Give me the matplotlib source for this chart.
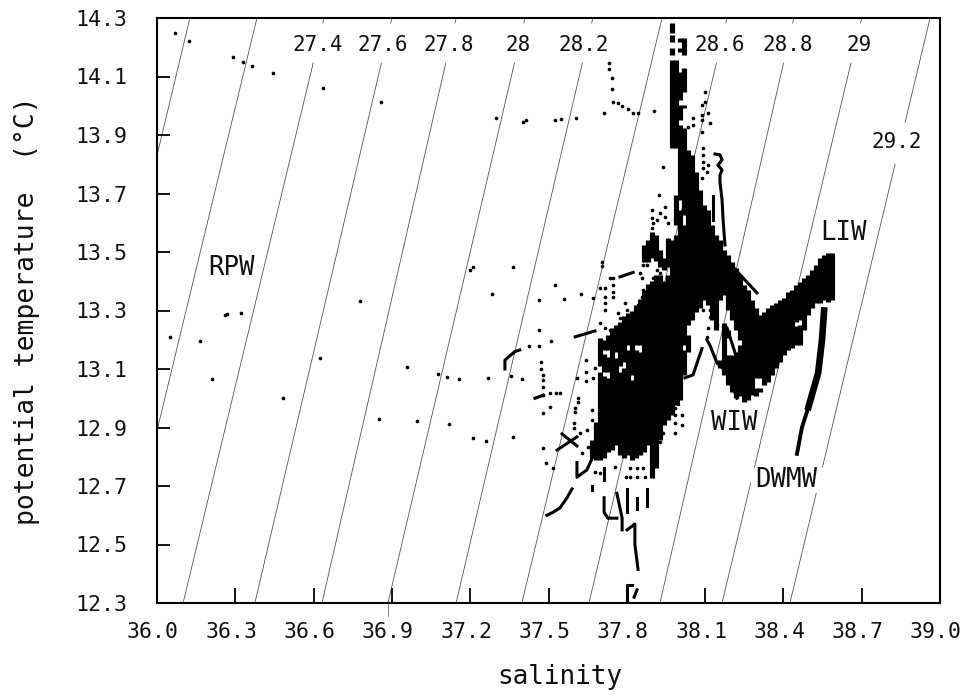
"""
Potential temperature vs salinity diagram with isopycnal lines.
"""

import matplotlib
matplotlib.use("Agg")
import matplotlib.pyplot as plt
from matplotlib.transforms import ScaledTranslation
import numpy as np

FONT = "DejaVu Sans Mono"
INK = "#111111"
LINE = "#555555"

SAL_TICKS = [36.0, 36.3, 36.6, 36.9, 37.2, 37.5, 37.8, 38.1, 38.4, 38.7, 39.0]
TEMP_TICKS = [12.3, 12.5, 12.7, 12.9, 13.1, 13.3, 13.5, 13.7, 13.9, 14.1, 14.3]

# isopycnals: salinity where each one meets the top and the bottom of the frame
sigma = [27.0, 27.2, 27.4, 27.6, 27.8, 28.0, 28.2, 28.4, 28.6, 28.8, 29.0, 29.2]
sigma_sal_top = [36.126, 36.383, 36.64, 36.90, 37.146, 37.41, 37.67, 37.935, 38.184, 38.44, 38.70, 38.962]
sigma_sal_bottom = [35.59, 35.84, 36.10, 36.375, 36.632, 36.885, 37.146, 37.398, 37.655, 37.927, 38.165, 38.425]
# temperature ranges where a line is broken for its text
sigma_gaps = [
    [], [],
    [(14.283, 14.146)], [(14.283, 14.146)], [(14.283, 14.146)], [(14.283, 14.146)], [(14.283, 14.146)],
    [],
    [(14.283, 14.146)], [(14.283, 14.146)],
    [(14.283, 14.146), (12.765, 12.71)],
    [(13.944, 13.80), (12.765, 12.675)],
]
sigma_text = ["27.4", "27.6", "27.8", "28", "28.2", "28.6", "28.8", "29", "29.2"]
sigma_text_sal = [36.615, 36.866, 37.119, 37.383, 37.636, 38.157, 38.418, 38.69, 38.835]
sigma_text_temp = [14.208, 14.208, 14.208, 14.208, 14.208, 14.208, 14.208, 14.208, 13.876]

water_names = ["RPW", "LIW", "WIW", "DWMW"]
water_sal = [36.284, 38.632, 38.211, 38.41]
water_temp = [13.445, 13.565, 12.915, 12.72]

# isolated samples
dots_sal = [
    36.068, 36.121, 36.292, 36.328, 36.364, 36.446, 36.635, 36.859, 36.778, 36.321, 36.261, 36.270,
    37.199, 37.21, 36.05, 36.166, 36.211, 36.482, 36.626, 36.851, 36.958, 36.995, 37.077, 37.111,
    37.157, 37.12, 37.21, 37.364, 37.285, 37.268, 37.261, 37.364, 37.355, 37.299, 37.402, 37.414,
    37.525, 37.548, 37.605, 37.714, 37.732, 37.732, 37.742, 37.742, 37.748, 37.766, 37.782, 37.805,
    37.825, 37.844, 37.904, 37.464, 37.526, 37.561, 37.625, 37.464, 37.427, 37.465, 37.508, 37.4,
    37.489, 37.479, 37.471, 37.471, 37.479, 37.479, 37.479, 37.479, 37.479, 37.506, 37.529, 37.544,
    37.506, 37.517, 37.644, 37.644, 37.644, 37.609, 37.67, 37.678, 37.613, 37.613, 37.602, 37.602,
    37.667, 37.667, 37.678, 37.647, 37.598, 37.598, 37.621, 37.651, 37.628, 37.697, 37.678,
    37.705, 37.705, 37.736, 37.747, 37.747, 37.747, 37.747, 37.697, 37.716, 37.716, 37.716, 37.716,
    37.67, 37.766, 37.774, 37.793, 37.801, 37.697, 37.716, 37.736, 37.762, 37.862, 37.87, 37.843,
    37.858, 37.897, 37.897, 37.9, 37.916, 37.946, 37.927, 37.946, 37.958, 37.985, 37.897, 37.862,
    37.877, 37.851, 37.858, 37.916, 37.9, 37.946, 37.927, 37.9, 37.916, 37.939, 37.897,
    38.1, 38.1, 38.088, 38.088, 38.111, 38.119, 38.054, 38.054, 38.088, 38.088, 38.034, 38.092,
    38.092, 38.092, 38.092, 38.111, 38.107, 38.088, 37.939, 37.923,
    38.092, 38.119, 38.119, 38.146, 38.111, 38.107,
    37.985, 37.985, 38.011, 38.011, 37.985, 37.985, 37.939, 37.927,
    37.812, 37.839, 37.862, 37.812, 37.839, 37.87, 37.797, 37.755,
]
dots_temp = [
    14.248, 14.222, 14.168, 14.151, 14.135, 14.111, 14.062, 14.014, 13.331, 13.291, 13.285, 13.287,
    13.438, 13.45, 13.21, 13.196, 13.067, 13.002, 13.139, 12.929, 13.106, 12.922, 13.082, 13.074,
    13.067, 12.913, 12.865, 13.449, 13.355, 13.07, 12.854, 12.868, 13.075, 13.958, 13.944, 13.951,
    13.951, 13.955, 13.959, 13.975, 14.146, 14.125, 14.094, 14.056, 14.014, 14.01, 14.0, 13.99,
    13.975, 13.975, 13.983, 13.336, 13.388, 13.339, 13.356, 13.233, 13.179, 13.179, 13.196, 13.067,
    12.779, 12.83, 13.124, 13.1, 13.079, 13.062, 13.038, 13.011, 12.95, 13.017, 13.017, 13.017,
    12.97, 12.762, 13.13, 13.09, 13.06, 13.069, 13.069, 13.103, 13.001, 12.987, 12.967, 12.953,
    12.96, 12.925, 12.902, 12.891, 12.915, 12.898, 12.881, 12.833, 12.813, 12.745, 12.748,
    13.466, 13.452, 13.411, 13.411, 13.387, 13.363, 13.346, 13.377, 13.377, 13.346, 13.326, 13.302,
    13.343, 13.291, 13.274, 13.326, 13.302, 13.257, 13.24, 13.233, 13.226, 13.37, 13.336, 13.319,
    13.346, 13.644, 13.616, 13.599, 13.609, 13.654, 13.633, 13.62, 13.599, 13.609, 13.582, 13.456,
    13.456, 13.428, 13.411, 13.438, 13.411, 13.449, 13.428, 13.38, 13.363, 13.37, 13.336,
    14.047, 14.013, 14.003, 13.968, 13.975, 13.941, 13.958, 13.934, 13.951, 13.91, 13.927, 13.856,
    13.832, 13.808, 13.787, 13.797, 13.773, 13.753, 13.791, 13.695,
    13.302, 13.302, 13.278, 13.25, 13.24, 13.209,
    12.967, 12.943, 12.943, 12.908, 12.915, 12.881, 12.881, 12.85,
    12.761, 12.761, 12.761, 12.731, 12.731, 12.731, 12.731, 12.765,
]

# vertical runs of samples in the dense part of the cloud: (warmest, coldest)
run_sal = [
    37.667, 37.682, 37.697, 37.713, 37.728, 37.743, 37.759, 37.774, 37.789, 37.805, 37.82, 37.835, 37.851,
    37.866, 37.881, 37.897, 37.912, 37.927, 37.943, 37.958, 37.973, 37.989, 38.004, 38.019, 38.034, 38.05,
    38.065, 38.08, 38.096, 38.111, 38.126, 38.142, 38.157, 38.172, 38.188, 38.203, 38.218, 38.234, 38.249,
    38.264, 38.28, 38.295, 38.31, 38.326, 38.341, 38.356, 38.372, 38.387, 38.402, 38.418, 38.433, 38.448,
    38.464, 38.479, 38.494, 38.51, 38.525, 38.54, 38.556, 38.571, 38.586,
]
run_ranges = [
    [(12.857, 12.796)],
    [(12.92, 12.789)],
    [(13.206, 13.11), (13.09, 12.789)],
    [(13.2, 13.165), (13.15, 13.09), (13.076, 12.796)],
    [(13.216, 13.165), (13.14, 13.09), (13.07, 12.816)],
    [(13.24, 12.823)],
    [(13.25, 13.158), (13.138, 12.84)],
    [(13.26, 13.11), (13.09, 12.806)],
    [(13.28, 13.124), (13.105, 12.796)],
    [(13.29, 13.182), (13.165, 12.806)],
    [(13.3, 13.079), (13.062, 12.789)],
    [(13.32, 13.182), (13.165, 12.796)],
    [(13.34, 13.182), (13.158, 12.806)],
    [(13.524, 13.466), (13.37, 12.816)],
    [(13.541, 13.466), (13.39, 12.84)],
    [(13.568, 13.479), (13.40, 12.727)],
    [(13.558, 13.47), (13.42, 12.762)],
    [(13.507, 13.45), (13.42, 12.857)],
    [(13.48, 13.44), (13.40, 12.909)],
    [(13.548, 13.45), (13.42, 12.926)],
    [(14.283, 14.249), (14.242, 14.218), (14.197, 14.174), (14.156, 13.856), (13.541, 12.943)],
    [(14.156, 13.856), (13.695, 13.592), (13.558, 12.977)],
    [(14.232, 14.218), (14.197, 14.184), (14.115, 14.02), (14.003, 13.951), (13.934, 13.678), (13.644, 12.994)],
    [(14.232, 14.174), (14.129, 14.047), (14.003, 13.992), (13.924, 13.626), (13.592, 13.182), (13.165, 13.079)],
    [(13.849, 13.25), (13.216, 13.158)],
    [(13.832, 13.267)],
    [(13.773, 13.295)],
    [(13.712, 13.309)],
    [(13.661, 13.336)],
    [(13.644, 13.319)],
    [(13.592, 13.267)],
    [(13.558, 13.233)],
    [(13.541, 13.336), (13.131, 13.103)],
    [(13.507, 13.353), (13.257, 13.079)],
    [(13.49, 13.302), (13.233, 13.206), (13.148, 13.045)],
    [(13.466, 13.267), (13.148, 13.021)],
    [(13.445, 13.233), (13.158, 13.001)],
    [(13.421, 13.199), (13.182, 13.008)],
    [(13.387, 12.987)],
    [(13.37, 12.994)],
    [(13.336, 13.011)],
    [(13.309, 13.069), (13.035, 13.008)],
    [(13.285, 13.069), (13.035, 13.021)],
    [(13.295, 13.045)],
    [(13.309, 13.056)],
    [(13.319, 13.079)],
    [(13.326, 13.103)],
    [(13.336, 13.124)],
    [(13.343, 13.148)],
    [(13.363, 13.165)],
    [(13.37, 13.172)],
    [(13.387, 13.261), (13.247, 13.182)],
    [(13.397, 13.267), (13.25, 13.182)],
    [(13.411, 13.233)],
    [(13.421, 13.285)],
    [(13.438, 13.309)],
    [(13.456, 13.326)],
    [(13.479, 13.326)],
    [(13.49, 13.336)],
    [(13.497, 13.33)],
    [(13.497, 13.336)],
]

# sample chains that read as continuous traces
traces = [
    ([37.494, 37.517, 37.544, 37.571, 37.59], [12.60, 12.61, 12.625, 12.66, 12.69]),
    ([37.609, 37.609, 37.647, 37.67], [12.78, 12.73, 12.755, 12.80]),
    ([37.552, 37.609], [12.878, 12.837]),
    ([37.533, 37.609], [12.823, 12.868]),
    ([37.448, 37.479], [13.0, 13.01]),
    ([37.602, 37.678], [13.21, 13.23]),
    ([37.774, 37.824], [13.415, 13.43]),
    ([37.713, 37.713], [12.76, 12.72]),
    ([37.667, 37.667], [12.70, 12.685]),
    ([37.713, 37.713, 37.728, 37.762], [12.66, 12.61, 12.59, 12.59]),
    ([37.762, 37.782, 37.782], [12.675, 12.59, 12.55]),
    ([37.801, 37.801], [12.69, 12.61]),
    ([37.839, 37.839], [12.66, 12.62]),
    ([37.877, 37.877], [12.69, 12.63]),
    ([37.801, 37.831, 37.831, 37.843], [12.55, 12.57, 12.50, 12.415]),
    ([37.82, 37.801, 37.801], [12.36, 12.36, 12.31]),
    ([37.839, 37.828], [12.345, 12.32]),
    ([37.996, 37.996], [13.05, 12.98]),
    ([38.023, 38.054, 38.069, 38.088], [13.07, 13.08, 13.12, 13.17]),
    ([38.107, 38.119, 38.146, 38.184, 38.222], [13.2, 13.18, 13.12, 13.09, 13.0]),
    ([38.184, 38.215, 38.234], [13.24, 13.155, 13.11]),
    ([38.195, 38.299], [13.46, 13.36]),
    ([38.138, 38.157, 38.165, 38.149, 38.165, 38.157, 38.157, 38.165, 38.169, 38.176],
     [13.835, 13.832, 13.815, 13.797, 13.78, 13.763, 13.739, 13.678, 13.609, 13.524]),
    ([38.13, 38.13], [13.69, 13.61]),
    ([37.333, 37.333, 37.345, 37.372, 37.39], [13.10, 13.13, 13.14, 13.16, 13.165]),
]

dwmw_sal = [38.452, 38.471, 38.496]
dwmw_temp = [12.81, 12.90, 12.97]
dwmw_upper_sal = [38.496, 38.533, 38.548, 38.556]
dwmw_upper_temp = [12.97, 13.086, 13.20, 13.30]


fig = plt.figure(figsize=(9.64, 6.95), dpi=100)
ax = fig.add_axes([157 / 964, 92 / 695, 783 / 964, 585 / 695])

for top, bottom, gaps in zip(sigma_sal_top, sigma_sal_bottom, sigma_gaps):
    edges = [14.3]
    for hi, lo in gaps:
        edges += [hi, lo]
    edges.append(12.3)
    for hi, lo in zip(edges[::2], edges[1::2]):
        xs = np.interp([hi, lo], [12.3, 14.3], [bottom, top])
        ax.plot(xs, [hi, lo], color=LINE, linewidth=0.6, zorder=1)

for sal, ranges in zip(run_sal, run_ranges):
    for hi, lo in ranges:
        ax.plot([sal, sal], [hi, lo], color="black", linewidth=3.7, solid_capstyle="butt", zorder=3)
for sal, temp in traces:
    ax.plot(sal, temp, color="black", linewidth=2.2, zorder=3)
ax.plot(dwmw_sal, dwmw_temp, color="black", linewidth=2.8, zorder=3)
ax.plot(dwmw_upper_sal, dwmw_upper_temp, color="black", linewidth=4.8, zorder=3)
ax.scatter(dots_sal, dots_temp, s=7, color="black", linewidths=0, zorder=3)

for text, sal, temp in zip(sigma_text, sigma_text_sal, sigma_text_temp):
    ax.text(sal, temp, text, ha="center", va="center", fontsize=15, family=FONT, color=INK)
for text, sal, temp in zip(water_names, water_sal, water_temp):
    ax.text(sal, temp, text, ha="center", va="center", fontsize=18.5, family=FONT, color=INK)

# stray stroke below the frame near the 36.9 tick
ax.plot([36.885, 36.885], [12.3, 12.255], color="#888888", linewidth=0.7, clip_on=False)

ax.set_xlim(36.0, 39.0)
ax.set_ylim(12.3, 14.3)
ax.set_xticks(SAL_TICKS)
ax.set_yticks(TEMP_TICKS)
ax.set_xticklabels([f"{v:.1f}" for v in SAL_TICKS], family=FONT, fontsize=15.5, color=INK)
ax.set_yticklabels([f"{v:.1f}" for v in TEMP_TICKS], family=FONT, fontsize=15.5, color=INK)
ax.tick_params(axis="x", direction="in", length=10.5, width=1.3, pad=14)
ax.tick_params(axis="y", direction="in", length=9.5, width=1.3, pad=21)
shift = ScaledTranslation(-4 / 100, 0, fig.dpi_scale_trans)
for label in ax.get_xticklabels():
    label.set_transform(label.get_transform() + shift)
for spine in ax.spines.values():
    spine.set_linewidth(1.5)

fig.text(560 / 964, 1 - 677 / 695, "salinity", ha="center", va="center",
         fontsize=18.7, family=FONT, color=INK)
fig.text(27 / 964, 1 - 311 / 695, "potential temperature  (°C)", ha="center", va="center",
         rotation=90, fontsize=19, family=FONT, color=INK)

fig.savefig("out.png", dpi=100, facecolor="white")
plt.close(fig)
